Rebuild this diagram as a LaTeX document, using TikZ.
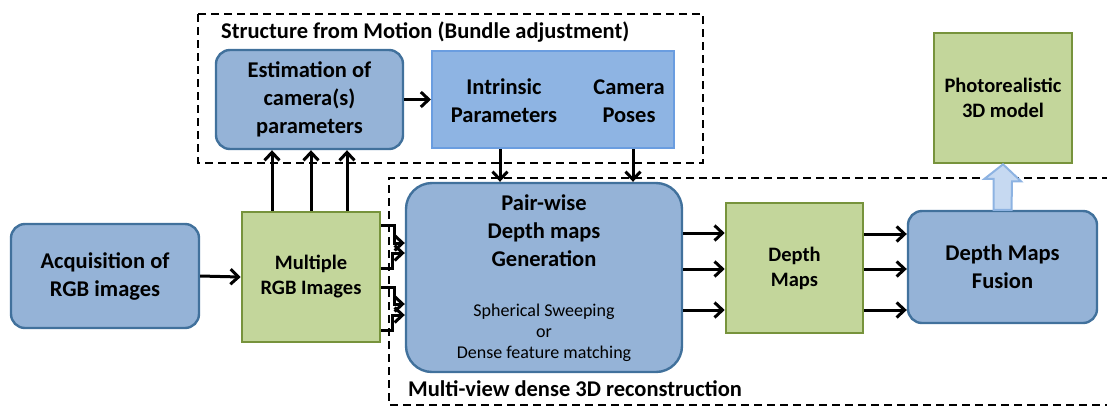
\documentclass[tikz,border=0pt]{standalone}
\usepackage{fontspec}
\setmainfont{Carlito}
\usetikzlibrary{arrows.meta,calc}
\definecolor{bfill}{HTML}{95B3D7}
\definecolor{bdraw}{HTML}{41719C}
\definecolor{gfill}{HTML}{C3D69B}
\definecolor{gdraw}{HTML}{77933C}
\definecolor{ifill}{HTML}{8EB4E3}
\definecolor{idraw}{HTML}{6A9DE0}
\definecolor{afill}{HTML}{C6D9F1}
\definecolor{adraw}{HTML}{8DB3E2}
\tikzset{
  bigtxt/.style={font=\fontsize{22.5}{28}\selectfont\bfseries, align=center, text=black},
  midtxt/.style={font=\fontsize{20.5}{25}\selectfont\bfseries, align=center, text=black},
  bluebox/.style={draw=bdraw, fill=bfill, line width=2.4pt, rounded corners=14pt, inner sep=0pt},
  greenbox/.style={draw=gdraw, fill=gfill, line width=2.6pt, inner sep=0pt},
  intrbox/.style={draw=idraw, fill=ifill, line width=2pt, inner sep=0pt},
  conn/.style={line width=3pt, -{Straight Barb[length=8pt,width=15pt,line width=3pt]}},
  groupbox/.style={line width=2.2pt, dash pattern=on 8pt off 5pt},
  fat/.style={draw=adraw, fill=afill, line width=2pt},
}
\begin{document}
\begin{tikzpicture}[x=1pt,y=-1pt]
\useasboundingbox (0,0) rectangle (1107,408);
% group boxes
\draw[groupbox] (198,14) rectangle (703,163);
\draw[groupbox] (1110,178) -- (389,178) -- (389,405) -- (1110,405);
\node[bigtxt, anchor=west, inner sep=0pt] (sfmtitle) at (221,32) {Structure from Motion (Bundle adjustment)};
\node[bigtxt, anchor=west, inner sep=0pt] (mvtitle) at (408,389) {Multi-view dense 3D reconstruction};
% nodes
\node[bluebox, minimum width=188pt, minimum height=104pt, bigtxt] (acq) at (105,276) {Acquisition of\\RGB images};
\node[greenbox, minimum width=138pt, minimum height=130pt, midtxt] (multi) at (311,277) {Multiple\\RGB Images};
\node[bluebox, minimum width=187pt, minimum height=99pt, bigtxt] (est) at (309.5,99.5) {Estimation of\\camera(s)\\parameters};
\node[intrbox, minimum width=242pt, minimum height=97pt] (intr) at (553,99.5) {};
\node[bigtxt] (intrtxt) at (504,101) {Intrinsic\\Parameters};
\node[bigtxt] (camtxt) at (629,101) {Camera\\Poses};
\node[bluebox, rounded corners=26pt, minimum width=276pt, minimum height=189pt] (pw) at (544,277.5) {};
\node[bigtxt] (pwtxt) at (544,231) {Pair-wise\\Depth maps\\Generation};
\node[font=\fontsize{18}{21}\selectfont, align=center] (pwsub) at (544,333) {Spherical Sweeping\\or\\Dense feature matching};
\node[greenbox, minimum width=137pt, minimum height=130pt, midtxt] (dm) at (794.5,268) {Depth\\Maps};
\node[bluebox, minimum width=189pt, minimum height=112pt, bigtxt] (fus) at (1002.5,267) {Depth Maps\\Fusion};
\node[greenbox, minimum width=138pt, minimum height=130pt, midtxt] (photo) at (1003,98) {Photorealistic\\3D model};
% connectors
\draw[conn] (acq.east) -- (multi.west);
\draw[conn] ([xshift=-39pt]multi.north) -- ([xshift=-39pt]multi.north |- est.south);
\draw[conn] (multi.north) -- (multi.north |- est.south);
\draw[conn] ([xshift=36pt]multi.north) -- ([xshift=36pt]multi.north |- est.south);
\draw[conn] (est.east) -- (intr.west);
\draw[conn] ([xshift=-53pt]intr.south) -- ([xshift=-53pt]intr.south |- pw.north);
\draw[conn] ([xshift=80pt]intr.south) -- ([xshift=80pt]intr.south |- pw.north);
% forks from multiple images
\draw[conn] ([yshift=52pt]multi.east) -- ++(13,0) |- ([yshift=34.5pt]pw.west);
\draw[conn] ([yshift=9pt]multi.east) -- ++(11,0) |- ([yshift=24.5pt]pw.west);
\draw[conn] ([yshift=-10pt]multi.east) -- ++(13,0) |- ([yshift=-26.5pt]pw.west);
\draw[conn] ([yshift=-53pt]multi.east) -- ++(11,0) |- ([yshift=-37.5pt]pw.west);
% pw -> dm -> fus
\draw[conn] ([yshift=44.5pt]pw.east) -- ([yshift=44.5pt]pw.east -| dm.west);
\draw[conn] ([yshift=8.5pt]pw.east) -- ([yshift=8.5pt]pw.east -| dm.west);
\draw[conn] ([yshift=-32.5pt]pw.east) -- ([yshift=-32.5pt]pw.east -| dm.west);
\draw[conn] ([yshift=34pt]dm.east) -- ([yshift=34pt]dm.east -| fus.west);
\draw[conn] ([yshift=-1pt]dm.east) -- ([yshift=-1pt]dm.east -| fus.west);
\draw[conn] ([yshift=-42pt]dm.east) -- ([yshift=-42pt]dm.east -| fus.west);
% fat arrow
\draw[fat] ([xshift=-9pt]fus.north) -- ++(0,-31) -- ++(-9,0) -- (photo.south) -- ++(18,17) -- ++(-9,0) -- ([xshift=9pt]fus.north) -- cycle;
\end{tikzpicture}
\end{document}
